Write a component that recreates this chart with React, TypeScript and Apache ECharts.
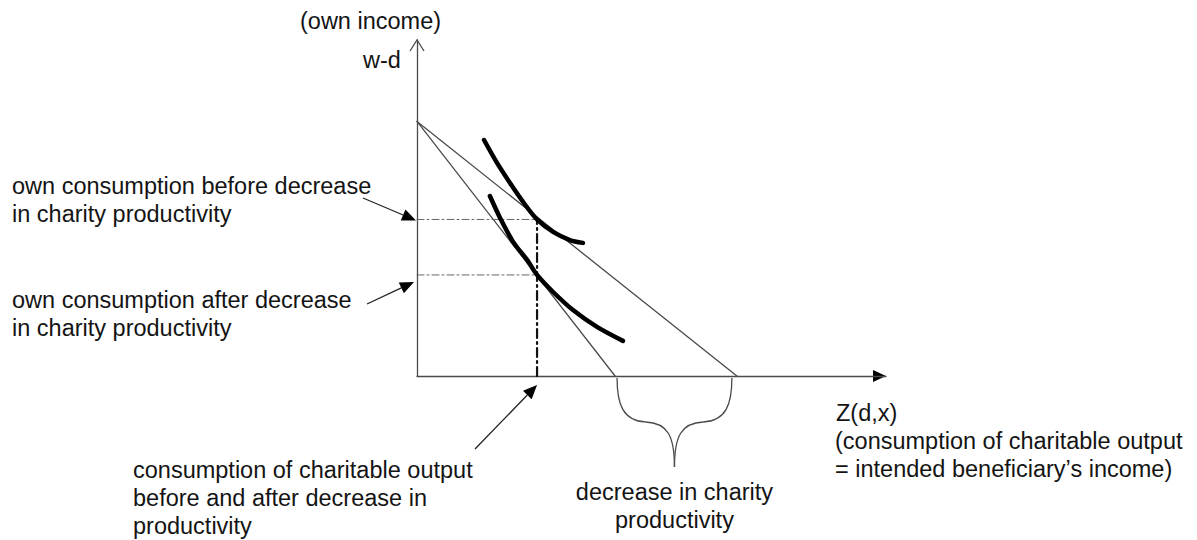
import React, { useEffect, useRef } from "react";
import * as echarts from "echarts";

// ---- data (model units) ----
const budgetBefore: number[][] = [[0, 10], [12.55, 0]];
const budgetAfter: number[][] = [[0, 10], [7.77, 0]];
const icBefore: number[][] = [
  [2.63, 9.27], [3.14, 8.37], [3.65, 7.58], [4.16, 6.84], [4.71, 6.15],
  [5.34, 5.66], [6.0, 5.34], [6.51, 5.23],
];
const icAfter: number[][] = [
  [2.86, 7.07], [3.26, 6.21], [3.77, 5.27], [4.32, 4.56], [4.71, 3.97],
  [5.34, 3.3], [6.12, 2.59], [7.06, 1.93], [8.08, 1.38],
];
const optimumX = 4.71;
const ownBefore = 6.15;
const ownAfter = 3.97;
const xMax = 18.4;
const yMax = 13.2;

// ---- labels ----
const yAxisTitle = "(own income)";
const yAxisVar = "w-d";
const xAxisVar = "Z(d,x)";
const xAxisTitle = "(consumption of charitable output\n= intended beneficiary\u2019s income)";
const labelBefore = "own consumption before decrease\nin charity productivity";
const labelAfter = "own consumption after decrease\nin charity productivity";
const labelZ = "consumption of charitable output\nbefore and after decrease in\nproductivity";
const labelBrace = "decrease in charity\nproductivity";

const FONT = '23.5px "Liberation Sans", Arial, Helvetica, sans-serif';
const TEXT_COLOR = "#141414";
const LINE_GRAY = "#4a4a4a";

function arrow(x1: number, y1: number, x2: number, y2: number, len = 14, half = 6) {
  const a = Math.atan2(y2 - y1, x2 - x1);
  const c = Math.cos(a), s = Math.sin(a);
  const bx = x2 - len * c, by = y2 - len * s;
  const px = -s, py = c;
  return [
    { type: "line", shape: { x1, y1, x2: bx, y2: by }, style: { stroke: "#222", lineWidth: 1.3 } },
    {
      type: "polygon",
      shape: { points: [[x2, y2], [bx + half * px, by + half * py], [bx - half * px, by - half * py]] },
      style: { fill: "#000" },
    },
  ];
}

function text(t: string, x: number, y: number, align = "left") {
  return {
    type: "text",
    x,
    y,
    style: { text: t, font: FONT, fill: TEXT_COLOR, align, verticalAlign: "top", lineHeight: 28 },
  };
}

export default function App() {
  const ref = useRef<HTMLDivElement>(null);
  useEffect(() => {
    if (!ref.current) return;
    const chart = echarts.init(ref.current, undefined, { renderer: "svg" });
    const lineSeries = (data: number[][], color: string, width: number, type: any = "solid", smooth: any = false) => ({
      type: "line",
      data,
      showSymbol: false,
      symbol: "none",
      smooth,
      lineStyle: { color, width, type, cap: "round" },
      silent: true,
    });
    chart.setOption({
      animation: false,
      grid: { left: 417, top: 40, width: 469, height: 336 },
      xAxis: {
        type: "value", min: 0, max: xMax,
        axisLine: { show: true, lineStyle: { color: LINE_GRAY, width: 1.3 } },
        axisTick: { show: false }, axisLabel: { show: false }, splitLine: { show: false },
      },
      yAxis: {
        type: "value", min: 0, max: yMax,
        axisLine: { show: true, lineStyle: { color: LINE_GRAY, width: 1.3 } },
        axisTick: { show: false }, axisLabel: { show: false }, splitLine: { show: false },
      },
      series: [
        lineSeries(budgetBefore, LINE_GRAY, 1.3),
        lineSeries(budgetAfter, LINE_GRAY, 1.3),
        lineSeries([[0, ownBefore], [optimumX, ownBefore]], "#666", 1, [7, 3, 2, 3]),
        lineSeries([[0, ownAfter], [optimumX, ownAfter]], "#666", 1, [7, 3, 2, 3]),
        lineSeries([[optimumX, 0], [optimumX, ownBefore]], "#111", 2.2, [9, 4, 2, 4]),
        lineSeries(icBefore, "#000", 4.5, "solid", 0.3),
        lineSeries(icAfter, "#000", 4.5, "solid", 0.3),
      ],
    });

    const p = (x: number, y: number) => chart.convertToPixel({ gridIndex: 0 }, [x, y]) as number[];
    const origin = p(0, 0);
    const yTop = p(0, yMax);
    const xEnd = p(xMax, 0);
    const tB = p(0, ownBefore);
    const tA = p(0, ownAfter);
    const tZ = p(optimumX, 0);
    const L = p(budgetAfter[1][0], 0)[0] + 2;
    const R = p(budgetBefore[1][0], 0)[0] - 5;
    const M = (L + R) / 2;
    const y0 = origin[1] + 2;
    const wl = M - L, wr = R - M;
    const braceStyle = { stroke: LINE_GRAY, lineWidth: 1.3, fill: "none" };
    const brace = [
      { type: "bezierCurve", shape: { x1: L, y1: y0, cpx1: L, cpy1: y0 + 26, cpx2: L + 0.1 * wl, cpy2: y0 + 43, x2: L + 0.5 * wl, y2: y0 + 44 }, style: braceStyle },
      { type: "bezierCurve", shape: { x1: L + 0.5 * wl, y1: y0 + 44, cpx1: L + 0.88 * wl, cpy1: y0 + 45, cpx2: M, cpy2: y0 + 58, x2: M, y2: y0 + 89 }, style: braceStyle },
      { type: "bezierCurve", shape: { x1: R, y1: y0, cpx1: R, cpy1: y0 + 26, cpx2: R - 0.1 * wr, cpy2: y0 + 43, x2: R - 0.5 * wr, y2: y0 + 44 }, style: braceStyle },
      { type: "bezierCurve", shape: { x1: R - 0.5 * wr, y1: y0 + 44, cpx1: R - 0.88 * wr, cpy1: y0 + 45, cpx2: M, cpy2: y0 + 58, x2: M, y2: y0 + 89 }, style: braceStyle },
    ];

    chart.setOption({
      graphic: [
        // y-axis open arrow head
        {
          type: "polyline",
          shape: { points: [[yTop[0] - 7, yTop[1] + 11], [yTop[0], yTop[1]], [yTop[0] + 7, yTop[1] + 11]] },
          style: { stroke: LINE_GRAY, lineWidth: 1.3, fill: "none" },
        },
        // x-axis filled arrow head
        {
          type: "polygon",
          shape: { points: [[xEnd[0], xEnd[1]], [xEnd[0] - 13, xEnd[1] - 6], [xEnd[0] - 13, xEnd[1] + 6]] },
          style: { fill: "#000" },
        },
        ...brace,
        ...arrow(363, 198, tB[0] - 1, tB[1] + 1),
        ...arrow(367, 304, tA[0] - 3, tA[1] + 7),
        ...arrow(475, 449, tZ[0], tZ[1] + 9),
        text(yAxisTitle, 300, 7),
        text(yAxisVar, 363, 46),
        text(labelBefore, 12, 172),
        text(labelAfter, 12, 286),
        text(labelZ, 133, 456),
        text(labelBrace, M, 478, "center"),
        text(xAxisVar, 836, 399),
        text(xAxisTitle, 835, 427),
      ],
    });
    return () => chart.dispose();
  }, []);
  return (
    <div
      ref={ref}
      style={{ position: "absolute", left: 0, top: 0, width: 1197, height: 540, background: "#fff" }}
    />
  );
}
